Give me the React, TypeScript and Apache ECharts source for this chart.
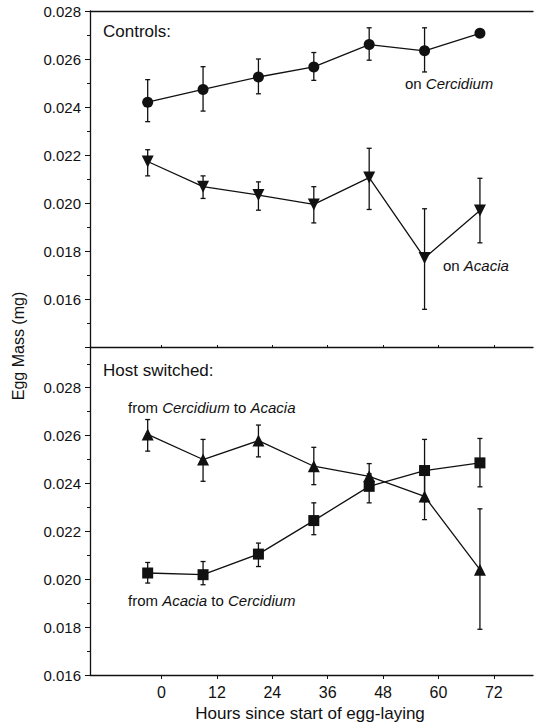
import React, { useEffect, useRef } from "react";
import * as echarts from "echarts";

const hours = [-3, 9, 21, 33, 45, 57, 69];
const xTickValues = [0, 12, 24, 36, 48, 60, 72];

// Controls, on Cercidium (circles)
const ctrlCercMean = [0.0242, 0.02473, 0.02525, 0.02567, 0.0266, 0.02634, 0.02707];
const ctrlCercLow = [0.02339, 0.02383, 0.02455, 0.02511, 0.02595, 0.02546, 0.02707];
const ctrlCercHigh = [0.02514, 0.02568, 0.026, 0.02627, 0.0273, 0.0273, 0.02707];

// Controls, on Acacia (down triangles)
const ctrlAcacMean = [0.02173, 0.02068, 0.02033, 0.01994, 0.02106, 0.01771, 0.01969];
const ctrlAcacLow = [0.02113, 0.02019, 0.0197, 0.01917, 0.01973, 0.01557, 0.01834];
const ctrlAcacHigh = [0.02222, 0.02113, 0.02088, 0.02068, 0.02228, 0.01976, 0.02103];

// Host switched: from Cercidium to Acacia (up triangles)
const cToAMean = [0.02605, 0.025, 0.02579, 0.02472, 0.0243, 0.02346, 0.0204];
const cToALow = [0.02535, 0.02409, 0.02511, 0.02395, 0.02377, 0.02249, 0.01791];
const cToAHigh = [0.02667, 0.02584, 0.02644, 0.02551, 0.02483, 0.02443, 0.02294];

// Host switched: from Acacia to Cercidium (squares)
const aToCMean = [0.02026, 0.02019, 0.02105, 0.02245, 0.02388, 0.02454, 0.02486];
const aToCLow = [0.01984, 0.01977, 0.02053, 0.02186, 0.02319, 0.02324, 0.02386];
const aToCHigh = [0.0207, 0.02074, 0.02151, 0.02319, 0.0244, 0.02584, 0.02588];

const INK = "#111";
const FONT = '"Liberation Sans", Arial, sans-serif';

function errorSeries(name: string, xAxisIndex: number, yAxisIndex: number, low: number[], high: number[]) {
  return {
    type: "custom",
    name,
    xAxisIndex,
    yAxisIndex,
    encode: { x: 0, y: [1, 2] },
    data: hours.map((h, i) => [h, low[i], high[i]]),
    z: 1,
    silent: true,
    renderItem: (_params: any, api: any) => {
      const x = api.value(0);
      const lo = api.coord([x, api.value(1)]);
      const hi = api.coord([x, api.value(2)]);
      const cw = 2.5;
      const st = { stroke: INK, lineWidth: 1.3 };
      return {
        type: "group",
        children: [
          { type: "line", shape: { x1: lo[0], y1: lo[1], x2: hi[0], y2: hi[1] }, style: st },
          { type: "line", shape: { x1: lo[0] - cw, y1: lo[1], x2: lo[0] + cw, y2: lo[1] }, style: st },
          { type: "line", shape: { x1: hi[0] - cw, y1: hi[1], x2: hi[0] + cw, y2: hi[1] }, style: st },
        ],
      };
    },
  };
}

function lineSeries(name: string, xAxisIndex: number, yAxisIndex: number, mean: number[], symbol: string, size: number, rotate = 0) {
  return {
    type: "line",
    name,
    xAxisIndex,
    yAxisIndex,
    data: hours.map((h, i) => [h, mean[i]]),
    symbol,
    symbolSize: size,
    symbolRotate: rotate,
    showAllSymbol: true,
    lineStyle: { color: INK, width: 1.3 },
    itemStyle: { color: INK },
    emphasis: { disabled: true },
    z: 2,
  };
}

const yLabel = { fontSize: 15, fontFamily: FONT, color: INK, margin: 9, formatter: (v: number) => v.toFixed(3) };
const richStyles = {
  n: { font: `15px ${FONT}`, fill: INK },
  i: { font: `italic 15px ${FONT}`, fill: INK },
};

export default function App() {
  const ref = useRef<HTMLDivElement>(null);
  useEffect(() => {
    const chart = echarts.init(ref.current!, null, { renderer: "svg" });
    const axisLine = { show: true, onZero: false, lineStyle: { color: INK, width: 1.3 } };
    chart.setOption({
      animation: false,
      backgroundColor: "#fff",
      grid: [
        { left: 90, top: 11, width: 443, height: 336 },
        { left: 90, top: 347, width: 443, height: 328 },
      ],
      xAxis: [
        {
          gridIndex: 0, type: "value", min: -15.5, max: 80.5, position: "bottom",
          axisLine, axisTick: { show: true, inside: true, length: 2, customValues: xTickValues, lineStyle: { color: INK } },
          axisLabel: { show: false }, splitLine: { show: false },
        },
        {
          gridIndex: 0, type: "value", min: -15.5, max: 80.5, position: "top",
          axisLine, axisTick: { show: false }, axisLabel: { show: false }, splitLine: { show: false },
        },
        {
          gridIndex: 1, type: "value", min: -15.5, max: 80.5, position: "bottom",
          axisLine,
          axisTick: { show: true, length: 4, customValues: xTickValues, lineStyle: { color: INK } },
          axisLabel: { show: true, customValues: xTickValues, fontSize: 16, fontFamily: FONT, color: INK, margin: 9 },
          splitLine: { show: false },
        },
      ],
      yAxis: [
        {
          gridIndex: 0, type: "value", min: 0.014, max: 0.028, interval: 0.002, position: "left",
          axisLine, axisTick: { show: true, length: 5, lineStyle: { color: INK } },
          minorTick: { show: true, splitNumber: 2, length: 3, lineStyle: { color: INK } },
          axisLabel: { ...yLabel, showMinLabel: false },
          splitLine: { show: false },
        },
        {
          gridIndex: 1, type: "value", min: 0.016, max: 0.0297, interval: 0.002, position: "left",
          axisLine, axisTick: { show: true, length: 5, lineStyle: { color: INK } },
          minorTick: { show: true, splitNumber: 2, length: 3, lineStyle: { color: INK } },
          axisLabel: { ...yLabel, showMaxLabel: false },
          splitLine: { show: false },
        },
      ],
      series: [
        errorSeries("ctrl-cerc-err", 0, 0, ctrlCercLow, ctrlCercHigh),
        errorSeries("ctrl-acac-err", 0, 0, ctrlAcacLow, ctrlAcacHigh),
        errorSeries("c2a-err", 2, 1, cToALow, cToAHigh),
        errorSeries("a2c-err", 2, 1, aToCLow, aToCHigh),
        lineSeries("on Cercidium", 0, 0, ctrlCercMean, "circle", 11),
        lineSeries("on Acacia", 0, 0, ctrlAcacMean, "triangle", 12, 180),
        lineSeries("from Cercidium to Acacia", 2, 1, cToAMean, "triangle", 12),
        lineSeries("from Acacia to Cercidium", 2, 1, aToCMean, "rect", 11),
      ],
      graphic: [
        { type: "text", x: 103, y: 31, style: { text: "Controls:", font: `17px ${FONT}`, fill: INK, textAlign: "left", textVerticalAlign: "middle" } },
        {
          type: "text", x: 405, y: 83,
          style: { text: "{n|on }{i|Cercidium}", fill: INK, textAlign: "left", textVerticalAlign: "middle", rich: richStyles },
        },
        {
          type: "text", x: 443, y: 265,
          style: { text: "{n|on }{i|Acacia}", fill: INK, textAlign: "left", textVerticalAlign: "middle", rich: richStyles },
        },
        { type: "text", x: 103, y: 370, style: { text: "Host switched:", font: `17px ${FONT}`, fill: INK, textAlign: "left", textVerticalAlign: "middle" } },
        {
          type: "text", x: 128, y: 407,
          style: { text: "{n|from }{i|Cercidium}{n| to }{i|Acacia}", fill: INK, textAlign: "left", textVerticalAlign: "middle", rich: richStyles },
        },
        {
          type: "text", x: 128, y: 600,
          style: { text: "{n|from }{i|Acacia}{n| to }{i|Cercidium}", fill: INK, textAlign: "left", textVerticalAlign: "middle", rich: richStyles },
        },
        {
          type: "text", x: 18, y: 346, rotation: Math.PI / 2,
          style: { text: "Egg Mass (mg)", font: `16px ${FONT}`, fill: INK, textAlign: "center", textVerticalAlign: "middle" },
        },
        {
          type: "text", x: 310, y: 713,
          style: { text: "Hours since start of egg-laying", font: `17px ${FONT}`, fill: INK, textAlign: "center", textVerticalAlign: "middle" },
        },
      ],
    });
    return () => chart.dispose();
  }, []);
  return <div ref={ref} style={{ position: "fixed", left: 0, top: 0, width: 534, height: 724 }} />;
}
